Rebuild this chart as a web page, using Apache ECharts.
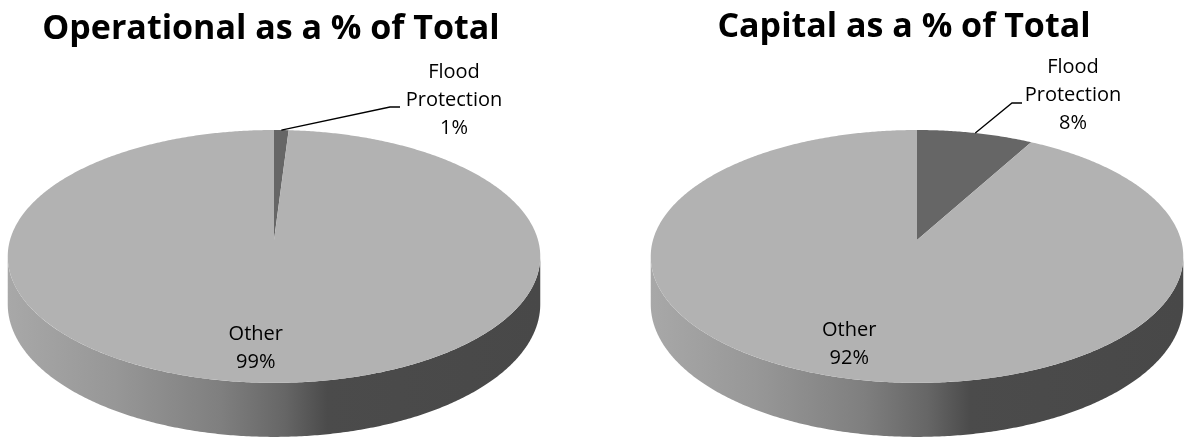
<!DOCTYPE html>
<html>
<head>
<meta charset="utf-8">
<title>Operational and Capital as a % of Total</title>
<script src="https://cdn.jsdelivr.net/npm/echarts@6/dist/echarts.min.js"></script>
<style>
  html, body { margin: 0; padding: 0; background: #ffffff; }
  #chart { width: 1184px; height: 441px; }
</style>
</head>
<body>
<div id="chart"></div>
<script>
// ---- data ----
const categories = ['Flood Protection', 'Other'];
const operationalValues = [1, 99];
const capitalValues = [8, 92];
const chartTitles = ['Operational as a % of Total', 'Capital as a % of Total'];

// ---- look ----
const sliceColors = ['#666666', '#b2b2b2'];
const wallStops = [
  [0.00, '#a8a8a8'], [0.20, '#979797'], [0.40, '#7f7f7f'],
  [0.52, '#666666'], [0.60, '#4b4b4b'], [1.00, '#484848']
];
const FONT = '"Open Sans", "Noto Sans", sans-serif';
const LABEL_FONT = '20px ' + FONT;

// tilted-disc projection: theta is clockwise from 12 o'clock (far edge)
const GEOM = { R: 264, S: 124.3, p: 0.13, H: 47 };
function project(cx, cy, f, thetaDeg, drop) {
  const t = thetaDeg * Math.PI / 180;
  const u = f * Math.sin(t);
  const v = -f * Math.cos(t);
  const w = 1 - GEOM.p * v;
  return [cx + GEOM.R * u / w, cy + (GEOM.S * v + (drop || 0)) / w];
}
function arc(cx, cy, f, a, b, drop) {
  const pts = [];
  const n = Math.max(2, Math.ceil(Math.abs(b - a) / 0.5));
  for (let i = 0; i <= n; i++) pts.push(project(cx, cy, f, a + (b - a) * i / n, drop));
  return pts;
}

// visible front part of the rim (between the two silhouette tangents)
const WALL_FROM = Math.acos(-GEOM.p) * 180 / Math.PI;
const WALL_TO = 360 - WALL_FROM;

function pieSeries(values, layout) {
  const total = values.reduce((s, v) => s + v, 0);
  const starts = [];
  let acc = 0;
  values.forEach(v => { starts.push(acc / total * 360); acc += v; });
  const { cx, cy } = layout;
  const halfW = GEOM.R / Math.sqrt(1 - GEOM.p * GEOM.p);

  return {
    type: 'custom',
    coordinateSystem: 'none',
    silent: true,
    data: values.map((v, i) => ({ name: categories[i], value: v })),
    renderItem: function (params, api) {
      const i = params.dataIndex;
      const v = api.value(0);
      const a = starts[i];
      const b = a + v / total * 360;
      const mid = (a + b) / 2;
      const pct = Math.round(v / total * 100) + '%';
      const children = [];

      // side wall
      const wa = Math.max(a, WALL_FROM), wb = Math.min(b, WALL_TO);
      if (wb > wa) {
        const top = arc(cx, cy, 1, wa, wb, 0);
        const bottom = arc(cx, cy, 1, wb, wa, GEOM.H);
        const light = sliceColors[i] === '#b2b2b2';
        children.push({
          type: 'polygon',
          z2: 1,
          shape: { points: top.concat(bottom) },
          style: {
            fill: {
              type: 'linear', global: true,
              x: cx - halfW, y: 0, x2: cx + halfW, y2: 0,
              colorStops: wallStops.map(s => ({ offset: s[0], color: light ? s[1] : '#3a3a3a' }))
            }
          }
        });
      }

      // top face
      children.push({
        type: 'polygon',
        z2: 5,
        shape: { points: [[cx, cy]].concat(arc(cx, cy, 1, a, b, 0)) },
        style: { fill: sliceColors[i] }
      });

      // label
      const outside = layout.outside[categories[i]];
      if (outside) {
        const rim = project(cx, cy, 1, mid, 0);
        children.push({
          type: 'polyline',
          z2: 6,
          shape: { points: [rim, outside.elbow, [outside.elbow[0] + 10, outside.elbow[1]]] },
          style: { stroke: '#000000', lineWidth: 1.3, fill: null }
        });
        children.push({
          type: 'text',
          z2: 7,
          style: {
            x: outside.text[0], y: outside.text[1],
            text: categories[i].replace(' ', '\n') + '\n' + pct,
            fill: '#000000', font: LABEL_FONT,
            lineHeight: 28, align: 'center', verticalAlign: 'middle'
          }
        });
      } else {
        const pos = project(cx, cy, 0.78, mid, 0);
        children.push({
          type: 'text',
          z2: 7,
          style: {
            x: pos[0] - 11, y: pos[1],
            text: categories[i] + '\n' + pct,
            fill: '#000000', font: LABEL_FONT,
            lineHeight: 28, align: 'center', verticalAlign: 'middle'
          }
        });
      }
      return { type: 'group', children: children };
    }
  };
}

const chart = echarts.init(document.getElementById('chart'), null, { renderer: 'canvas' });
chart.setOption({
  backgroundColor: '#ffffff',
  animation: false,
  title: [
    { text: chartTitles[0], left: 271, top: 7 },
    { text: chartTitles[1], left: 904, top: 5 }
  ].map(t => Object.assign(t, {
    textAlign: 'center',
    padding: 0,
    textStyle: { fontFamily: FONT, fontWeight: 'bold', fontSize: 34, lineHeight: 44, color: '#000000' }
  })),
  series: [
    pieSeries(operationalValues, {
      cx: 274, cy: 240,
      outside: { 'Flood Protection': { elbow: [390, 107], text: [454, 100] } }
    }),
    pieSeries(capitalValues, {
      cx: 917, cy: 240,
      outside: { 'Flood Protection': { elbow: [1012, 103], text: [1073, 95] } }
    })
  ]
});
</script>
</body>
</html>
